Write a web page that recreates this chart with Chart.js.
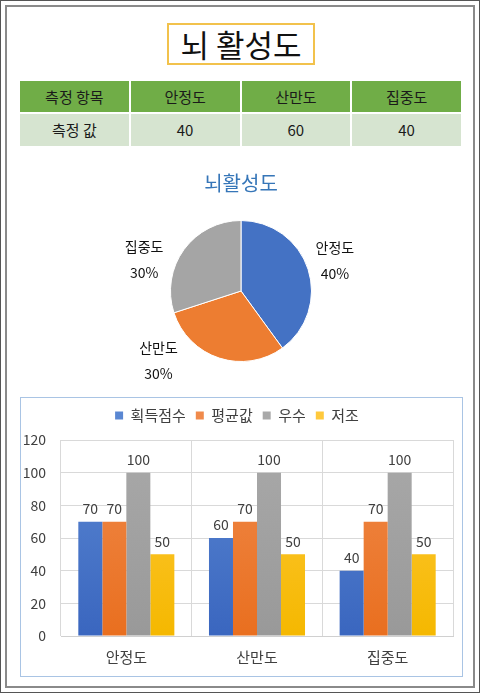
<!DOCTYPE html>
<html>
<head>
<meta charset="utf-8">
<script src="https://cdn.jsdelivr.net/npm/chart.js@4"></script>
<style>
  html, body { margin: 0; padding: 0; background: #fff; }
  body { font-family: "Noto Sans CJK KR", sans-serif; }
  #page { position: relative; width: 478px; height: 691px; border: 1px solid #555; overflow: hidden; }
  #inner { position: absolute; left: 4px; top: 4px; width: 466px; height: 679px; border: 2px solid #8a8a8a; }
  #title { position: absolute; left: 166px; top: 22px; width: 144px; height: 38px; border: 2px solid #f2c24c;
           text-align: center; font-size: 31px; line-height: 38px; color: #111; }
  #tbl { position: absolute; left: 19px; top: 80px; width: 441px; }
  .row { display: flex; gap: 2px; }
  .cell { flex: 1; text-align: center; font-size: 15px; color: #1a1a1a; }
  .head .cell { background: #70ad47; height: 31px; line-height: 31px; }
  .vals .cell { background: #d6e4d0; height: 32px; line-height: 32px; margin-top: 2px; }
  #pieBox { position: absolute; left: 100px; top: 160px; width: 280px; height: 230px; }
  #barBox { position: absolute; left: 19px; top: 396px; width: 441px; height: 278px; border: 1px solid #a9c4e4; }
  canvas { display: block; }
</style>
</head>
<body>
<div id="page">
  <div id="inner"></div>
  <div id="title">뇌 활성도</div>
  <div id="tbl"></div>
  <div id="pieBox"><canvas id="pie" width="280" height="230"></canvas></div>
  <div id="barBox"><canvas id="bar" width="441" height="278"></canvas></div>
</div>
<script>
// table
const tableHead = '측정 항목';
const tableRowName = '측정 값';
const categories = ['안정도', '산만도', '집중도'];
const measured = [40, 60, 40];

// pie
const pieTitle = '뇌활성도';
const pieValues = [40, 30, 30];
const pieColors = ['#4472c4', '#ed7d31', '#a5a5a5'];
const pieLabelNudge = [[0, 0], [-52, -24], [-17, 27]];

// bars
const seriesNames = ['획득점수', '평균값', '우수', '저조'];
const scores = [70, 60, 40];
const averages = [70, 70, 70];
const excellent = [100, 100, 100];
const poor = [50, 50, 50];
const barTop = ['#5a87d2', '#f08a4b', '#a9a9a9', '#ffc93c'];
const barBottom = ['#3a66bf', '#e96f1f', '#999999', '#f5b800'];

const font = '"Noto Sans CJK KR", sans-serif';

// build table
let html = '<div class="row head"><div class="cell">' + tableHead + '</div>';
categories.forEach(c => html += '<div class="cell">' + c + '</div>');
html += '</div><div class="row vals"><div class="cell">' + tableRowName + '</div>';
measured.forEach(v => html += '<div class="cell">' + v + '</div>');
html += '</div>';
document.getElementById('tbl').innerHTML = html;

// pie labels outside the slices
const pieLabels = {
  id: 'pieLabels',
  afterDatasetsDraw(chart) {
    const ctx = chart.ctx;
    const total = pieValues.reduce((a, b) => a + b, 0);
    ctx.save();
    ctx.font = '14px ' + font;
    ctx.fillStyle = '#111';
    ctx.textAlign = 'center';
    ctx.textBaseline = 'middle';
    chart.getDatasetMeta(0).data.forEach((arc, i) => {
      const mid = (arc.startAngle + arc.endAngle) / 2;
      const r = arc.outerRadius * 1.4;
      const x = arc.x + Math.cos(mid) * r + pieLabelNudge[i][0];
      const y = arc.y + Math.sin(mid) * r + pieLabelNudge[i][1];
      ctx.fillText(categories[i], x, y - 13);
      ctx.fillText(Math.round(pieValues[i] / total * 100) + '%', x, y + 13);
    });
    ctx.restore();
  }
};

new Chart(document.getElementById('pie'), {
  type: 'pie',
  data: {
    labels: categories,
    datasets: [{ data: pieValues, backgroundColor: pieColors, borderColor: '#fff', borderWidth: 1 }]
  },
  options: {
    responsive: false,
    animation: false,
    layout: { padding: { top: 0, bottom: 29 } },
    plugins: {
      legend: { display: false },
      tooltip: { enabled: false },
      title: { display: true, text: pieTitle, color: '#3676b8', font: { family: font, size: 20, weight: 'normal' },
               padding: { top: 10, bottom: 25 } }
    }
  },
  plugins: [pieLabels]
});

// value labels above bars
const barValues = {
  id: 'barValues',
  afterDatasetsDraw(chart) {
    const ctx = chart.ctx;
    ctx.save();
    ctx.font = '14px ' + font;
    ctx.fillStyle = '#404040';
    ctx.textAlign = 'center';
    ctx.textBaseline = 'bottom';
    chart.data.datasets.forEach((ds, d) => {
      chart.getDatasetMeta(d).data.forEach((bar, i) => {
        ctx.fillText(ds.data[i], bar.x, bar.y - 6);
      });
    });
    ctx.restore();
  }
};

// extra room under the legend
const legendGap = {
  id: 'legendGap',
  beforeInit(chart) {
    const fit = chart.legend.fit;
    chart.legend.fit = function () {
      fit.call(this);
      this.height += 7;
    };
  }
};

function fill(d) {
  return function (c) {
    const area = c.chart.chartArea;
    if (!area) return barBottom[d];
    const g = c.chart.ctx.createLinearGradient(0, area.top, 0, area.bottom);
    g.addColorStop(0, barTop[d]);
    g.addColorStop(1, barBottom[d]);
    return g;
  };
}

const seriesData = [scores, averages, excellent, poor];

new Chart(document.getElementById('bar'), {
  type: 'bar',
  data: {
    labels: categories,
    datasets: seriesNames.map((n, d) => ({
      label: n,
      data: seriesData[d],
      backgroundColor: fill(d),
      borderWidth: 0,
      categoryPercentage: 0.735,
      barPercentage: 1
    }))
  },
  options: {
    responsive: false,
    animation: false,
    layout: { padding: { top: 0, right: 9, left: 0, bottom: 0 } },
    scales: {
      x: {
        grid: { color: '#d9d9d9', drawTicks: false, offset: true },
        border: { color: '#d0d0d0' },
        ticks: { color: '#404040', font: { family: font, size: 15 }, padding: 12 },
        afterFit(s) { s.height = 40; }
      },
      y: {
        min: 0, max: 120,
        grid: { color: '#d9d9d9', drawTicks: false },
        border: { display: false },
        ticks: { stepSize: 20, color: '#404040', font: { family: font, size: 14 }, padding: 15 },
        afterFit(s) { s.width = 40; }
      }
    },
    plugins: {
      legend: {
        position: 'top',
        labels: { boxWidth: 8, boxHeight: 8, padding: 10, color: '#404040', font: { family: font, size: 15 } }
      },
      tooltip: { enabled: false }
    }
  },
  plugins: [barValues, legendGap]
});
</script>
</body>
</html>
